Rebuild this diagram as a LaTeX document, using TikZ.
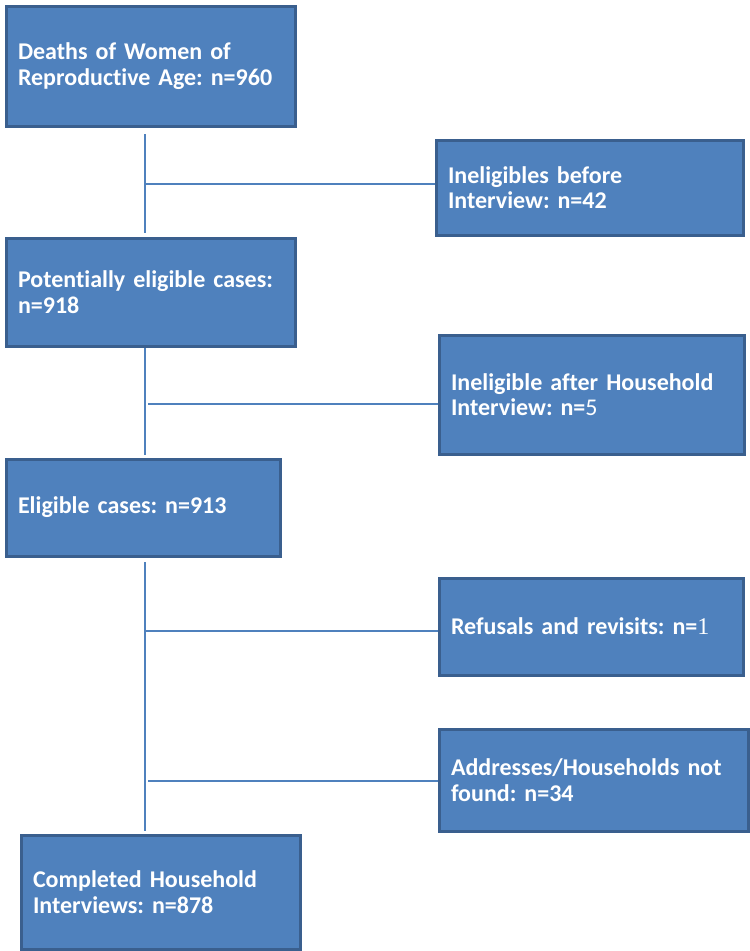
\documentclass[tikz,border=0pt]{standalone}
\usepackage{fontspec}
\setmainfont[Ligatures=NoCommon]{Carlito}
\newfontfamily\numfont{Liberation Serif}
\usetikzlibrary{positioning}
\definecolor{boxfill}{HTML}{4F81BD}
\definecolor{boxline}{HTML}{3A5F8E}
\frenchspacing

\begin{document}
\begin{tikzpicture}[x=0.75pt,y=-0.75pt,
    flowbox/.style={draw=boxline, fill=boxfill, line width=2.25pt, anchor=north west,
      align=left, inner xsep=9pt, text=white,
      font=\fontsize{18}{19}\selectfont\bfseries},
    link/.style={draw=boxfill, line width=1.1pt}]
  \useasboundingbox (0,0) rectangle (750,951);
  % main column
  \node[flowbox, text width=198.75pt, minimum height=90pt] (deaths) at (4.5,4.5)
    {Deaths of Women of\\Reproductive Age: n=960};
  \node[flowbox, text width=198.75pt, minimum height=81pt] (potential) at (4.5,236.5)
    {Potentially eligible cases:\\n=918};
  \node[flowbox, text width=187.5pt, minimum height=72.75pt] (eligible) at (4.5,457.5)
    {Eligible cases: n=913};
  \node[flowbox, text width=191.25pt, minimum height=85.5pt] (completed) at (19.5,833.5)
    {Completed Household\\Interviews: n=878};
  % exclusions
  \node[flowbox, text width=212.25pt, minimum height=71.25pt] (inelbefore) at (434.5,138.5)
    {Ineligibles before\\Interview: n=42};
  \node[flowbox, text width=210.75pt, minimum height=89.25pt] (inelafter) at (437.5,333.5)
    {Ineligible after Household\\Interview: n={\mdseries 5}};
  \node[flowbox, text width=210pt, minimum height=72.75pt] (refusals) at (437.5,576.5)
    {Refusals and revisits: n={\numfont\mdseries 1}};
  \node[flowbox, text width=213.75pt, minimum height=76.5pt] (notfound) at (437.5,727.5)
    {Addresses/Households not\\found: n=34};
  % trunks
  \coordinate (t1a) at (145,134);  \coordinate (t1b) at (145,233);
  \coordinate (t2a) at (145,348);  \coordinate (t2b) at (145,455);
  \coordinate (t3a) at (145,562);  \coordinate (t3b) at (145,831);
  \coordinate (j1) at (145,184);
  \coordinate (j2) at (148,404);
  \coordinate (j3) at (145,631);
  \coordinate (j4) at (148,781);
  \path[link] (t1a) -- (t1b)
    (t2a) -- (t2b)
    (t3a) -- (t3b)
    (j1) -- (j1 -| inelbefore.west)
    (j2) -- (j2 -| inelafter.west)
    (j3) -- (j3 -| refusals.west)
    (j4) -- (j4 -| notfound.west);
\end{tikzpicture}
\end{document}
